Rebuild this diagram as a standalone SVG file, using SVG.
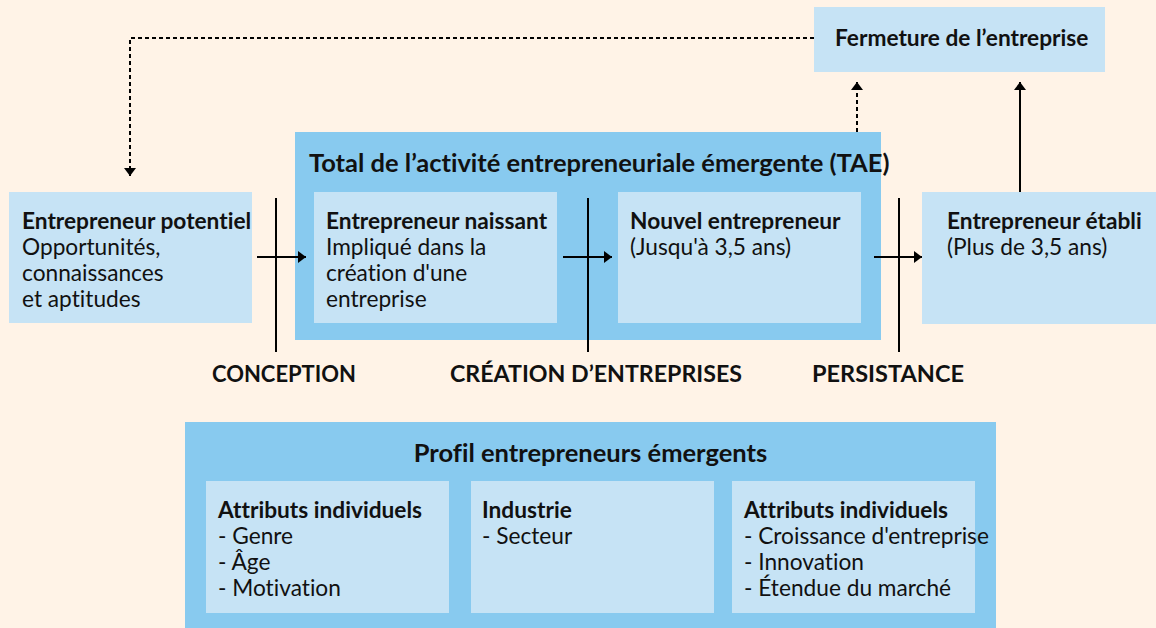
<svg xmlns="http://www.w3.org/2000/svg" width="1156" height="628" viewBox="0 0 1156 628">
<defs>
<style>
.bg{fill:#FFF3E7}
.lt{fill:#C6E3F5}
.md{fill:#88CAEF}
text{font-family:Lato,"Noto Sans",sans-serif;fill:#111;font-size:22.7px;font-variant-ligatures:none;font-feature-settings:"liga" 0,"dlig" 0}
.b{font-weight:bold}
.t{font-weight:bold;font-size:25.5px}
.lbl{font-weight:bold;font-size:23.3px}
.ln{stroke:#000;stroke-width:2;fill:none}
.dot{stroke:#000;stroke-width:2;fill:none;stroke-dasharray:4 3}
</style>
<marker id="ah" markerUnits="userSpaceOnUse" markerWidth="10" markerHeight="14" refX="8" refY="6" orient="auto">
<path d="M0,0 L8,6 L0,12 z" fill="#000"/>
</marker>
</defs>
<rect class="bg" x="0" y="0" width="1156" height="628"/>

<g id="fermeture">
<rect class="lt" x="814" y="7" width="291" height="65"/>
<text class="b" x="835" y="46">Fermeture de l’entreprise</text>
</g>

<g id="potentiel">
<rect class="lt" x="9" y="192" width="243" height="131"/>
<text class="b" x="22" y="229">Entrepreneur potentiel</text>
<text x="22" y="255">Opportunités,</text>
<text x="22" y="281">connaissances</text>
<text x="22" y="307">et aptitudes</text>
</g>

<g id="tae">
<rect class="md" x="295" y="132" width="586" height="208"/>
<text class="t" x="309" y="172">Total de l’activité entrepreneuriale émergente (TAE)</text>
</g>

<g id="naissant">
<rect class="lt" x="314" y="192" width="243" height="131"/>
<text class="b" x="326" y="229">Entrepreneur naissant</text>
<text x="326" y="255">Impliqué dans la</text>
<text x="326" y="281">création d'une</text>
<text x="326" y="307">entreprise</text>
</g>

<g id="nouvel">
<rect class="lt" x="618" y="192" width="243" height="131"/>
<text class="b" x="630" y="229">Nouvel entrepreneur</text>
<text x="630" y="255">(Jusqu'à 3,5 ans)</text>
</g>

<g id="etabli">
<rect class="lt" x="922" y="192" width="234" height="132"/>
<text class="b" x="947" y="229">Entrepreneur établi</text>
<text x="947" y="255">(Plus de 3,5 ans)</text>
</g>

<g id="phases">
<text class="lbl" x="212" y="382" textLength="144" lengthAdjust="spacingAndGlyphs">CONCEPTION</text>
<text class="lbl" x="450" y="382" textLength="292" lengthAdjust="spacingAndGlyphs">CRÉATION D’ENTREPRISES</text>
<text class="lbl" x="812" y="382" textLength="152" lengthAdjust="spacingAndGlyphs">PERSISTANCE</text>
</g>

<g id="profil">
<rect class="md" x="185" y="422" width="811" height="206"/>
<text class="t" x="590.5" y="462" text-anchor="middle">Profil entrepreneurs émergents</text>
</g>

<g id="attributs1">
<rect class="lt" x="206" y="481" width="243" height="132"/>
<text class="b" x="218" y="518">Attributs individuels</text>
<text x="218" y="544">- Genre</text>
<text x="218" y="570">- Âge</text>
<text x="218" y="596">- Motivation</text>
</g>

<g id="industrie">
<rect class="lt" x="471" y="481" width="243" height="132"/>
<text class="b" x="482" y="518">Industrie</text>
<text x="482" y="544">- Secteur</text>
</g>

<g id="attributs2">
<rect class="lt" x="732" y="481" width="243" height="132"/>
<text class="b" x="744" y="518">Attributs individuels</text>
<text x="744" y="544">- Croissance d'entreprise</text>
<text x="744" y="570">- Innovation</text>
<text x="744" y="596">- Étendue du marché</text>
</g>

<g id="connectors">
<path class="dot" d="M814,38 H130 V176" marker-end="url(#ah)"/>
<path class="dot" d="M857,132 V82" marker-end="url(#ah)"/>
<path class="ln" d="M1020,192 V82" marker-end="url(#ah)"/>
<line class="ln" x1="276" y1="198" x2="276" y2="352"/>
<line class="ln" x1="588" y1="198" x2="588" y2="352"/>
<line class="ln" x1="899" y1="198" x2="899" y2="352"/>
<path class="ln" d="M257,257 H306" marker-end="url(#ah)"/>
<path class="ln" d="M563,257 H612" marker-end="url(#ah)"/>
<path class="ln" d="M874,257 H922" marker-end="url(#ah)"/>
</g>
</svg>
